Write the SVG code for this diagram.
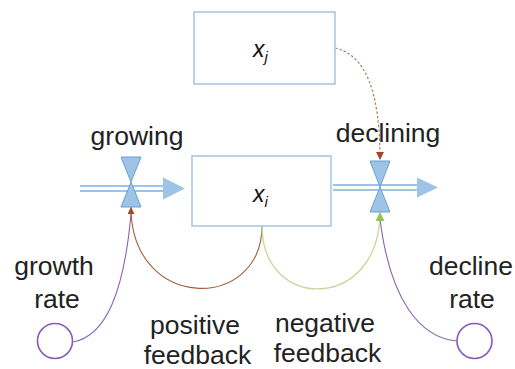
<svg xmlns="http://www.w3.org/2000/svg" width="515" height="369" viewBox="0 0 515 369">
  <defs>
    <style>
      .lbl { font-family: "Liberation Sans", Arial, sans-serif; font-size: 26.5px; fill: #222222; text-anchor: middle; }
      .var { font-family: "Liberation Sans", Arial, sans-serif; font-size: 23px; font-style: italic; fill: #111111; }
      .box { fill: #ffffff; stroke: #a9c8e6; stroke-width: 1.6; }
      .pipe { stroke: #9dc3e6; stroke-width: 2; fill: none; }
      .head { fill: #9dc3e6; }
      .valve { fill: #9dc3e6; stroke: #6d9fd0; stroke-width: 1; }
      .pos { fill: none; stroke: #a0603a; stroke-width: 1.1; }
      .neg { fill: none; stroke: #c5d89a; stroke-width: 1.3; }
      .rate { fill: none; stroke: #8a63b0; stroke-width: 1.1; }
      .ring { fill: #ffffff; stroke: #8a5bb5; stroke-width: 1.6; }
      .link { fill: none; stroke: #a08070; stroke-width: 1.2; stroke-dasharray: 2.5 2; }
    </style>
    <marker id="arrBrown" viewBox="0 0 10 10" refX="10" refY="5" markerWidth="7" markerHeight="7" markerUnits="userSpaceOnUse" orient="auto">
      <path d="M0,0 L10,5 L0,10 Z" fill="#a0472a"/>
    </marker>
    <marker id="arrBrownBig" viewBox="0 0 10 10" refX="10" refY="5" markerWidth="8" markerHeight="8" markerUnits="userSpaceOnUse" orient="auto">
      <path d="M0,0 L10,5 L0,10 Z" fill="#a0472a"/>
    </marker>
    <marker id="arrGreen" viewBox="0 0 10 10" refX="10" refY="5" markerWidth="9" markerHeight="9" markerUnits="userSpaceOnUse" orient="auto">
      <path d="M0,0 L10,5 L0,10 Z" fill="#92c45a"/>
    </marker>
  </defs>

  <!-- flows, information links and feedback loops -->
  <g id="connectors">
    <!-- inflow pipe -->
    <line class="pipe" x1="80" y1="186" x2="165" y2="186"/>
    <line class="pipe" x1="80" y1="191" x2="165" y2="191"/>
    <polygon class="head" points="163,177.5 185,188.5 163,199.5"/>
    <!-- outflow pipe -->
    <line class="pipe" x1="333" y1="185" x2="419" y2="185"/>
    <line class="pipe" x1="333" y1="190" x2="419" y2="190"/>
    <polygon class="head" points="417,177.5 438,187.5 417,197.5"/>
    <!-- x_j influences the declining flow -->
    <path class="link" d="M335,48 C366,55 380,92 380,160" marker-end="url(#arrBrownBig)"/>
    <!-- rate parameters -->
    <path class="rate" d="M73,342 C106,336 124,292 131,214"/>
    <path class="rate" d="M457,341 C420,338 390,300 380,219"/>
    <!-- positive feedback: x_i -> growing -->
    <path class="pos" d="M262,226 C262,312 131,312 131,207" marker-end="url(#arrBrown)"/>
    <!-- negative feedback: x_i -> declining -->
    <path class="neg" d="M262,226 C262,312 380,312 380,212" marker-end="url(#arrGreen)"/>
  </g>

  <g id="xj">
    <rect class="box" x="194" y="12" width="141" height="72"/>
    <text class="var" x="253" y="57">x<tspan font-size="15" dy="5">j</tspan></text>
  </g>

  <g id="xi">
    <rect class="box" x="192" y="156" width="139" height="70"/>
    <text class="var" x="253" y="202">x<tspan font-size="15" dy="5">i</tspan></text>
  </g>

  <g id="growing">
    <polygon class="valve" points="121,157 141,157 131,182 141,207 121,207 131,182"/>
    <text class="lbl" x="137" y="145">growing</text>
  </g>

  <g id="declining">
    <polygon class="valve" points="370,161 390,161 380,187 390,212 370,212 380,187"/>
    <text class="lbl" x="388" y="142">declining</text>
  </g>

  <g id="growth-rate">
    <circle class="ring" cx="55" cy="341" r="17.5"/>
    <text class="lbl" x="54" y="275">growth</text>
    <text class="lbl" x="57" y="308">rate</text>
  </g>

  <g id="decline-rate">
    <circle class="ring" cx="474.5" cy="341" r="17.5"/>
    <text class="lbl" x="471" y="275">decline</text>
    <text class="lbl" x="472" y="308">rate</text>
  </g>

  <g id="positive-feedback">
    <text class="lbl" x="195" y="334">positive</text>
    <text class="lbl" x="197.5" y="364">feedback</text>
  </g>

  <g id="negative-feedback">
    <text class="lbl" x="325" y="332">negative</text>
    <text class="lbl" x="327.5" y="362">feedback</text>
  </g>
</svg>
